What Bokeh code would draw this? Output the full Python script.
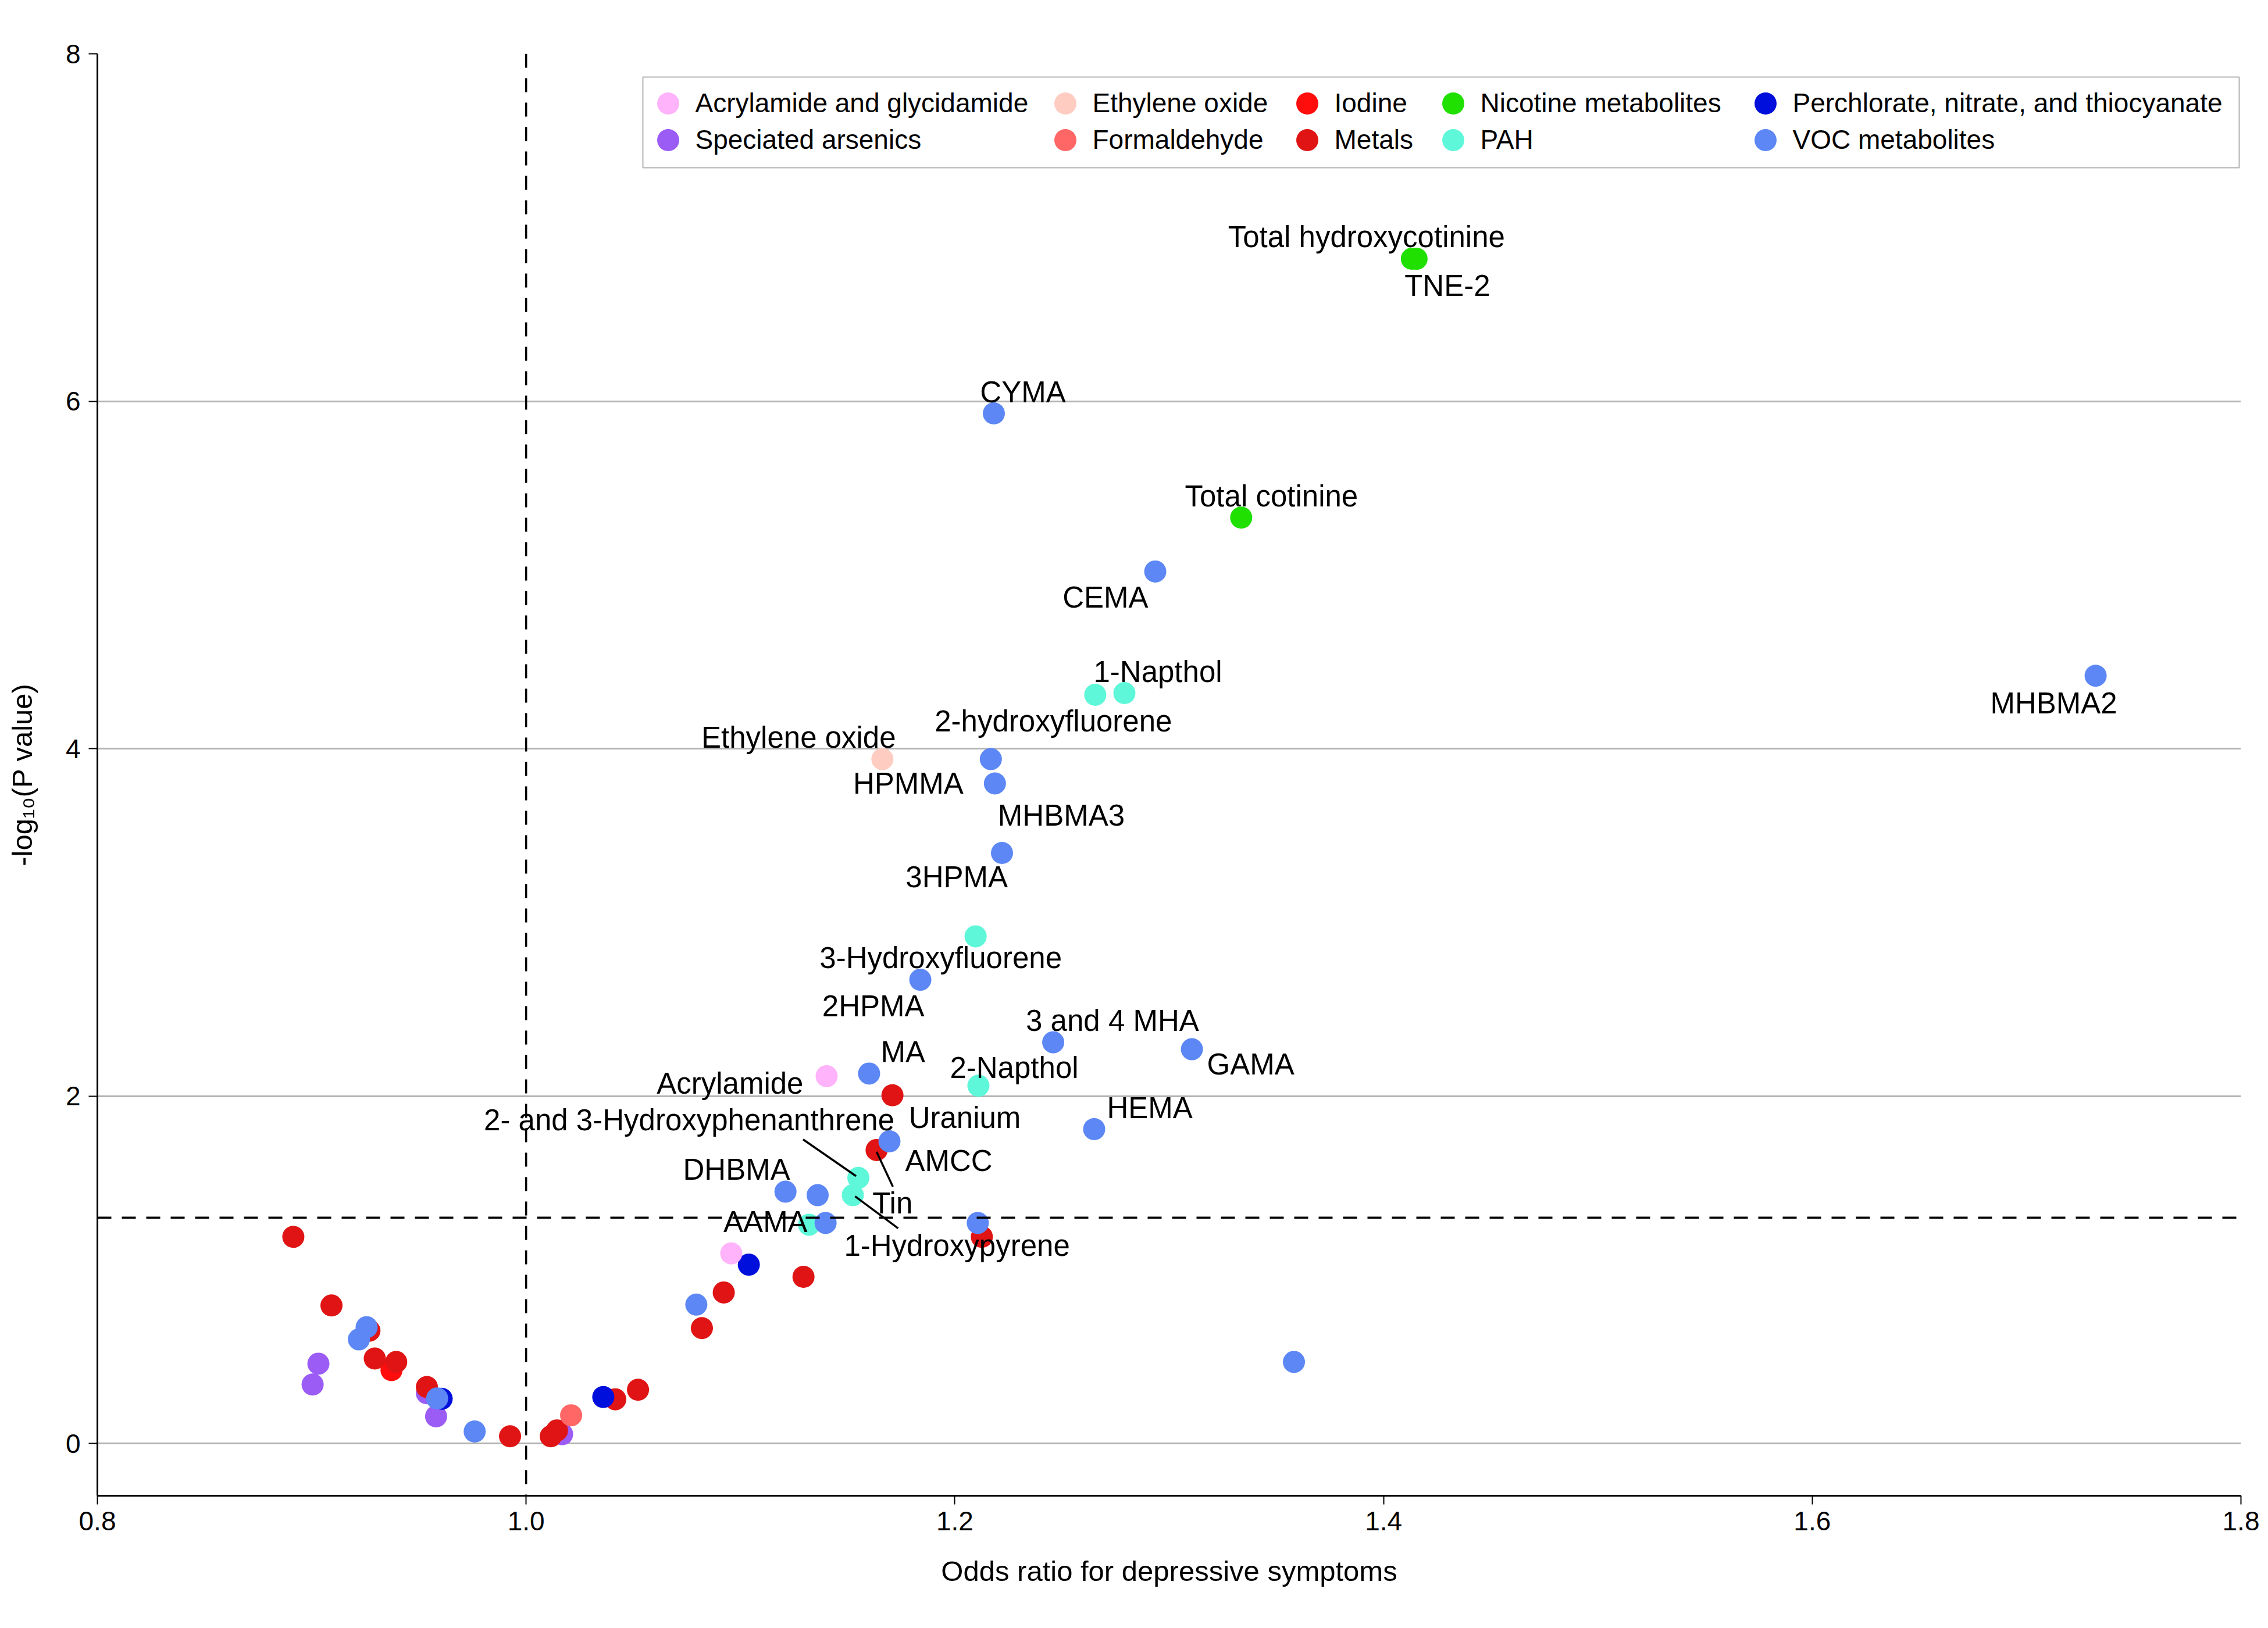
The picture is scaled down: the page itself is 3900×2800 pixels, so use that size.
from bokeh.plotting import figure
from bokeh.models import (Range1d, FixedTicker, PrintfTickFormatter, Span, Legend,
                          LegendItem, ColumnDataSource, BoxAnnotation)
from bokeh.core.properties import value
from bokeh.embed import file_html
from bokeh.resources import INLINE

FONT = "Liberation Sans"

# ---------------- data ----------------
x_ticks = [0.8, 1.0, 1.2, 1.4, 1.6, 1.8]
y_ticks = [0, 2, 4, 6, 8]
p_threshold = 1.301  # -log10(0.05)
null_or = 1.0

acryl_names = ["Acrylamide", ""]
acryl_or = [1.1402, 1.0957]
acryl_logp = [2.115, 1.095]

ethylene_names = ["Ethylene oxide"]
ethylene_or = [1.1662]
ethylene_logp = [3.94]

iodine_names = [""]
iodine_or = [0.9372]
iodine_logp = [0.423]

nicotine_names = ["Total hydroxycotinine", "TNE-2", "Total cotinine"]
nicotine_or = [1.4132, 1.4154, 1.3336]
nicotine_logp = [6.82, 6.82, 5.33]

perchlorate_names = ["", "", ""]
perchlorate_or = [1.1039, 1.0360, 0.9606]
perchlorate_logp = [1.03, 0.268, 0.258]

arsenic_names = ["", "", "", "", ""]
arsenic_or = [0.9031, 0.9004, 0.9537, 0.9580, 1.0168]
arsenic_logp = [0.46, 0.34, 0.29, 0.157, 0.054]

formaldehyde_names = [""]
formaldehyde_or = [1.0210]
formaldehyde_logp = [0.163]

metals_names = ["Uranium", "Tin", "", "", "", "", "", "", "", "", "", "", "", "", "", "", ""]
metals_or = [1.1709, 1.1635, 1.2126, 1.1294, 1.0922, 1.0820, 1.0522, 1.0416, 1.0144,
             1.0115, 0.9925, 0.9537, 0.9394, 0.9294, 0.9269, 0.9092, 0.8914]
metals_logp = [2.005, 1.69, 1.19, 0.96, 0.87, 0.665, 0.31, 0.255, 0.076,
               0.042, 0.042, 0.326, 0.47, 0.49, 0.65, 0.795, 1.19]

pah_names = ["1-Napthol", "2-hydroxyfluorene", "3-Hydroxyfluorene", "2-Napthol",
             "2- and 3-Hydroxyphenanthrene", "1-Hydroxypyrene", ""]
pah_or = [1.2791, 1.2655, 1.2097, 1.2110, 1.1550, 1.1524, 1.1320]
pah_logp = [4.32, 4.31, 2.92, 2.06, 1.53, 1.43, 1.26]

voc_names = ["CYMA", "CEMA", "MHBMA2", "HPMMA", "MHBMA3", "3HPMA", "2HPMA", "3 and 4 MHA",
             "GAMA", "MA", "HEMA", "AMCC", "DHBMA", "AAMA",
             "", "", "", "", "", "", "", ""]
voc_or = [1.2182, 1.2935, 1.7322, 1.2168, 1.2187, 1.2220, 1.1839, 1.2459,
          1.3106, 1.1600, 1.2650, 1.1695, 1.1210, 1.1397,
          1.1360, 1.2107, 1.3582, 1.0794, 0.9256, 0.9220, 0.9585, 0.9760]
voc_logp = [5.93, 5.02, 4.42, 3.94, 3.80, 3.40, 2.67, 2.31,
            2.27, 2.13, 1.81, 1.74, 1.45, 1.27,
            1.43, 1.27, 0.47, 0.80, 0.67, 0.60, 0.26, 0.07]

# group name, data, colour  (drawing order)
groups = [
    ("Speciated arsenics", arsenic_names, arsenic_or, arsenic_logp, "#9B5CF6"),
    ("Iodine", iodine_names, iodine_or, iodine_logp, "#FF0D0D"),
    ("Metals", metals_names, metals_or, metals_logp, "#E01414"),
    ("Formaldehyde", formaldehyde_names, formaldehyde_or, formaldehyde_logp, "#FF6666"),
    ("Perchlorate, nitrate, and thiocyanate", perchlorate_names, perchlorate_or, perchlorate_logp, "#000FDB"),
    ("Acrylamide and glycidamide", acryl_names, acryl_or, acryl_logp, "#FFB3FA"),
    ("Ethylene oxide", ethylene_names, ethylene_or, ethylene_logp, "#FFCCC2"),
    ("Nicotine metabolites", nicotine_names, nicotine_or, nicotine_logp, "#1FE000"),
    ("PAH", pah_names, pah_or, pah_logp, "#5EF7D9"),
    ("VOC metabolites", voc_names, voc_or, voc_logp, "#5C87F5"),
]
# legend grid: rows x columns
legend_rows = [
    ["Acrylamide and glycidamide", "Ethylene oxide", "Iodine", "Nicotine metabolites",
     "Perchlorate, nitrate, and thiocyanate"],
    ["Speciated arsenics", "Formaldehyde", "Metals", "PAH", "VOC metabolites"],
]

# label placement (screen px offsets from the point; y down), and alignment
label_style = {
    "Total hydroxycotinine": (-78, -23, "center"),
    "TNE-2": (53, 61, "center"),
    "Total cotinine": (52, -22, "center"),
    "CYMA": (50, -22, "center"),
    "CEMA": (-12, 60, "right"),
    "1-Napthol": (-53, -22, "left"),
    "2-hydroxyfluorene": (-72, 60, "center"),
    "MHBMA2": (-72, 62, "center"),
    "Ethylene oxide": (-144, -22, "center"),
    "HPMMA": (-47, 57, "right"),
    "MHBMA3": (5, 70, "left"),
    "3HPMA": (10, 57, "right"),
    "3-Hydroxyfluorene": (-60, 52, "center"),
    "2HPMA": (7, 60, "right"),
    "3 and 4 MHA": (-47, -22, "left"),
    "GAMA": (26, 41, "left"),
    "MA": (20, -22, "left"),
    "Acrylamide": (-40, 28, "right"),
    "2-Napthol": (-49, -16, "left"),
    "Uranium": (28, 54, "left"),
    "2- and 3-Hydroxyphenanthrene": (62, -84, "right"),
    "HEMA": (22, -22, "left"),
    "AMCC": (27, 49, "left"),
    "Tin": (-7, 107, "left"),
    "DHBMA": (8, -23, "right"),
    "AAMA": (-31, 13, "right"),
    "1-Hydroxypyrene": (-15, 102, "left"),
}
LABEL_DY_FIX = -15
leader_style = {
    "2- and 3-Hydroxyphenanthrene": (-95, -66, -4, -3),
    "Tin": (0, 3, 28, 63),
    "1-Hydroxypyrene": (4, 2, 78, 57),
}

# ---------------- figure ----------------
X0, X1 = 0.8, 1.8
Y0, Y1 = -0.3, 8.0
FW, FH = 3686, 2480

p = figure(frame_width=FW, frame_height=FH,
           x_range=Range1d(X0, X1), y_range=Range1d(Y0, Y1),
           output_backend="svg", toolbar_location=None,
           min_border_left=167, min_border_top=92, min_border_right=39, min_border_bottom=196,
           background_fill_color="white", border_fill_color="white")
p.outline_line_color = None
p.xgrid.visible = False
p.ygrid.ticker = FixedTicker(ticks=y_ticks)
p.ygrid.grid_line_color = "#B3B3B3"
p.ygrid.grid_line_width = 3

p.xaxis.ticker = FixedTicker(ticks=x_ticks)
p.xaxis.formatter = PrintfTickFormatter(format="%.1f")
p.yaxis.ticker = FixedTicker(ticks=y_ticks)
p.yaxis.formatter = PrintfTickFormatter(format="%d")
for ax in (p.xaxis[0], p.yaxis[0]):
    ax.axis_line_width = 3
    ax.axis_line_color = "black"
    ax.major_tick_line_width = 2
    ax.major_tick_line_color = "black"
    ax.major_tick_out = 15
    ax.major_tick_in = 0
    ax.minor_tick_out = 0
    ax.minor_tick_in = 0
    ax.major_label_text_font = FONT
    ax.major_label_text_font_size = "46px"
    ax.major_label_text_color = "black"
    ax.axis_label_text_font = FONT
    ax.axis_label_text_font_size = "49px"
    ax.axis_label_text_font_style = "normal"
    ax.axis_label_text_color = "black"
p.xaxis.axis_label = "Odds ratio for depressive symptoms"
p.yaxis.axis_label = "-log\u2081\u2080(P value)"
p.xaxis.major_label_standoff = 12
p.yaxis.major_label_standoff = 14
p.xaxis.axis_label_standoff = 40
p.yaxis.axis_label_standoff = 45

p.add_layout(Span(location=null_or, dimension="height", line_color="black",
                  line_width=3.5, line_dash="24 18"))
p.add_layout(Span(location=p_threshold, dimension="width", line_color="black",
                  line_width=3.5, line_dash="24 18"))

renderers = {}
lab = dict(x=[], y=[], text=[], dx=[], dy=[], align=[])
lead = dict(x0=[], y0=[], x1=[], y1=[])
kx = (X1 - X0) / FW
ky = (Y1 - Y0) / FH
for gname, names, ors, lps, col in groups:
    src = ColumnDataSource(dict(x=ors, y=lps, name=names))
    r = p.scatter("x", "y", source=src, size=38, fill_color=col, line_color=None)
    renderers[gname] = r
    for n, xv, yv in zip(names, ors, lps):
        if n:
            dx, dy, al = label_style[n]
            lab["x"].append(xv); lab["y"].append(yv); lab["text"].append(n)
            lab["dx"].append(dx); lab["dy"].append(dy + LABEL_DY_FIX); lab["align"].append(al)
            if n in leader_style:
                a, b, c, d = leader_style[n]
                lead["x0"].append(xv + a * kx); lead["y0"].append(yv - b * ky)
                lead["x1"].append(xv + c * kx); lead["y1"].append(yv - d * ky)

p.segment("x0", "y0", "x1", "y1", source=ColumnDataSource(lead), line_color="black", line_width=3.5)
p.text("x", "y", text="text", source=ColumnDataSource(lab), x_offset="dx", y_offset="dy",
       text_align="align", text_baseline="alphabetic", text_font=value(FONT),
       text_font_size="51px", text_color="black")

# ---- legend: framed box with a grid of entries (frame-relative px, y up) ----
LEG_LEFT, LEG_RIGHT, LEG_TOP, LEG_BOTTOM = 938, 3683, 2440, 2284
col_centers = [981, 1664, 2080, 2331, 2868]
row_centers = [2395, 2332]
GB = 95  # glyph box -> marker diameter 0.4*GB = 38
p.add_layout(BoxAnnotation(left=LEG_LEFT, right=LEG_RIGHT, top=LEG_TOP, bottom=LEG_BOTTOM,
                           left_units="screen", right_units="screen",
                           top_units="screen", bottom_units="screen",
                           fill_color="white", fill_alpha=1.0,
                           line_color="black", line_width=2, level="annotation"))
for ri, row in enumerate(legend_rows):
    for ci, g in enumerate(row):
        lg = Legend(items=[LegendItem(label=g, renderers=[renderers[g]])],
                    location=(col_centers[ci] - GB / 2, row_centers[ri] - GB / 2),
                    glyph_width=GB, glyph_height=GB, label_standoff=0, padding=0,
                    margin=0, spacing=0,
                    label_text_font=FONT, label_text_font_size="46px",
                    label_text_color="black",
                    border_line_color=None, background_fill_alpha=0.0)
        p.add_layout(lg)

open("out.html", "w").write(file_html(p, INLINE))
